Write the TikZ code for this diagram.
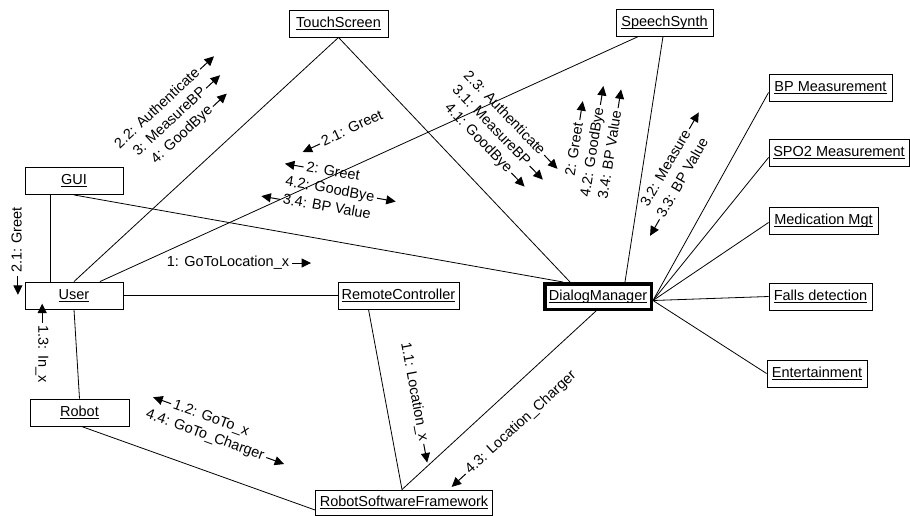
\documentclass[tikz,border=0pt]{standalone}
\usepackage{fontspec}
\setmainfont{Liberation Sans}
\usetikzlibrary{arrows.meta,calc}
\newcommand\ulbox[1]{\setbox0\hbox{#1}\rlap{\rule[-2.2pt]{\wd0}{0.9pt}}\box0}
\newcommand\ra{\rlap{\,\tikz[baseline=-3.8pt]\draw[line width=1pt,-{Triangle[length=9.5pt,width=9pt]}](0pt,0pt)--(19pt,0pt);}}
\newcommand\la{\llap{\tikz[baseline=-3.8pt]\draw[line width=1pt,{Triangle[length=9.5pt,width=9pt]}-](0pt,0pt)--(19pt,0pt);\,}}
\tikzset{
  obj/.style={draw, line width=0.9pt, minimum height=27pt, inner xsep=2pt, inner ysep=0pt, fill=white,
    font=\fontsize{14.5}{17}\selectfont},
  msg/.style={font=\fontsize{14.5}{18}\selectfont, align=center, inner sep=0pt},
  conn/.style={line width=0.8pt},
}
\begin{document}
\begin{tikzpicture}[x=1pt,y=-1pt]
\useasboundingbox (0,0) rectangle (910,516);
% objects
\node[obj, minimum width=99pt]  (ts)    at (338.5,23.5) {\ulbox{TouchScreen}};
\node[obj, minimum width=97pt]  (ss)    at (664.5,22.5) {\ulbox{SpeechSynth}};
\node[obj, minimum width=98pt]  (gui)   at (74,181)     {\ulbox{GUI}};
\node[obj, minimum width=98pt]  (user)  at (74,295.5)   {\ulbox{User}};
\node[obj, minimum width=121pt] (rc)    at (398.5,295.5){\ulbox{RemoteController}};
\node[obj, minimum width=99pt]  (robot) at (79.5,412.5) {\ulbox{Robot}};
\node[obj, minimum width=177pt, minimum height=25pt] (rsf) at (404,502.5) {\ulbox{RobotSoftwareFramework}};
\node[obj, line width=3.5pt, minimum width=106.5pt, minimum height=25.5pt] (dm) at (598,296.5) {\ulbox{DialogManager}};
\node[obj, minimum width=123pt] (bp)    at (830.5,87.5) {\ulbox{BP Measurement}};
\node[obj, minimum width=140pt] (spo)   at (839,152.5)  {\ulbox{SPO2 Measurement}};
\node[obj, minimum width=109pt] (med)   at (823.5,220.5){\ulbox{Medication Mgt}};
\node[obj, minimum width=103pt] (falls) at (820.5,296.5){\ulbox{Falls detection}};
\node[obj, minimum width=100pt] (ent)   at (817,373.5)  {\ulbox{Entertainment}};
% connectors
\draw[conn] ([xshift=-24pt]gui.south) -- ([xshift=-24pt]user.north);
\draw[conn] (gui.south) -- ([xshift=-35pt]dm.north);
\draw[conn] (ts.south) -- (user.north);
\draw[conn] (ts.south) -- ([xshift=-28pt]dm.north);
\draw[conn] ([xshift=-26pt]ss.south) -- ([xshift=26pt]user.north);
\draw[conn] ([xshift=-1.5pt]ss.south) -- ([xshift=27pt]dm.north);
\draw[conn] (user.east) -- (rc.west);
\draw[conn] (user.south) -- (robot.north);
\draw[conn] ([xshift=2pt]robot.south) -- ([yshift=-7.5pt]rsf.west);
\draw[conn] ([xshift=-30pt]rc.south) -- ([xshift=-2pt]rsf.north);
\draw[conn] ([xshift=-2pt]dm.south) -- ([xshift=-2pt]rsf.north);
\draw[conn] ([yshift=-4pt]dm.east) -- ([yshift=-5pt]bp.west);
\draw[conn] ([yshift=-4pt]dm.east) -- ([yshift=-5pt]spo.west);
\draw[conn] ([yshift=-4pt]dm.east) -- ([yshift=-2pt]med.west);
\draw[conn] ([yshift=-4pt]dm.east) -- (falls.west);
\draw[conn] ([yshift=-4pt]dm.east) -- (ent.west);
% messages
\node[msg, rotate=43]    (m1)  at (170,122) {2.2: Authenticate\ra\\3: MeasureBP\ra\\4: GoodBye\ra};
\node[msg, rotate=25]    (m2)  at (352,128) {\la2.1: Greet};
\node[msg, rotate=-10]   (m3)  at (330,189) {\la2: Greet\\4.2: GoodBye\ra\\\la3.4: BP Value};
\node[msg, rotate=-46]   (m4)  at (491,126) {2.3: Authenticate\ra\\3.1: MeasureBP\ra\\4.1: GoodBye\ra};
\node[msg, rotate=81]    (m5)  at (592,152) {2: Greet\ra\\4.2: GoodBye\ra\\3.4: BP Value\ra};
\node[msg, rotate=60, font=\fontsize{14.5}{19.5}\selectfont] (m6) at (674,173) {3.2: Measure\ra\\\la3.3: BP Value};
\node[msg]               (m7)  at (228,263) {1: GoToLocation\_x\ra};
\node[msg, rotate=90]    (m8)  at (17,240)  {\la2.1: Greet};
\node[msg, rotate=-90]   (m9)  at (42,354)  {\la1.3: In\_x};
\node[msg, rotate=-20]   (m10) at (208,427) {\la1.2: GoTo\_x\\4.4: GoTo\_Charger\ra};
\node[msg, rotate=-79.4] (m11) at (414,392) {1.1: Location\_x\ra};
\node[msg, rotate=42.7]  (m12) at (521,423) {\la4.3: Location\_Charger};
\end{tikzpicture}
\end{document}
